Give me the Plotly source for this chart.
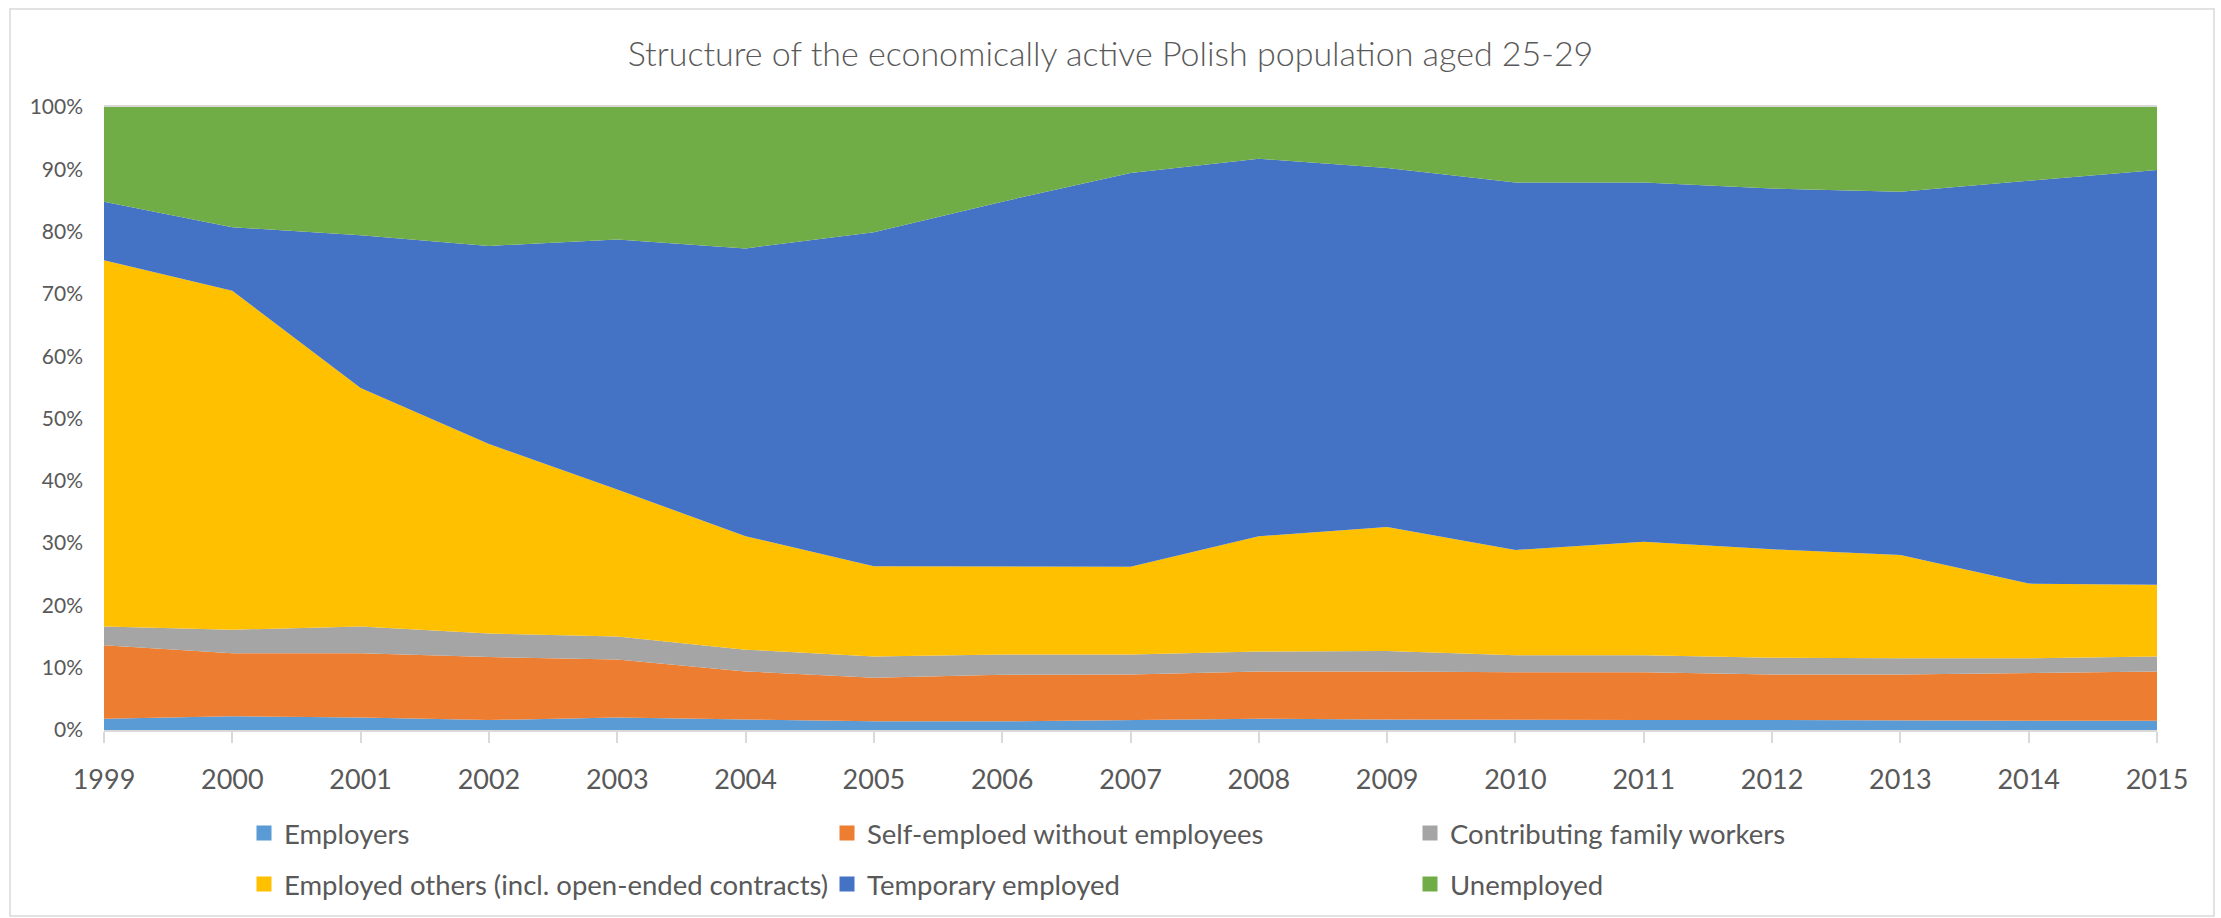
import plotly.graph_objects as go

years = list(range(1999, 2016))

employers = [1.8, 2.2, 2.0, 1.6, 2.0, 1.7, 1.4, 1.4, 1.6, 1.8, 1.7, 1.6, 1.6, 1.6, 1.5, 1.5, 1.5]
self_employed = [11.8, 10.1, 10.3, 10.1, 9.3, 7.7, 7.0, 7.45, 7.3, 7.6, 7.7, 7.65, 7.65, 7.3, 7.4, 7.6, 7.9]
family_workers = [3.0, 3.8, 4.3, 3.8, 3.7, 3.5, 3.4, 3.25, 3.2, 3.2, 3.3, 2.75, 2.75, 2.7, 2.6, 2.4, 2.4]
employed_others = [58.8, 54.4, 38.3, 30.4, 23.6, 18.2, 14.5, 14.1, 14.1, 18.5, 19.9, 16.9, 18.2, 17.4, 16.6, 12.0, 11.5]
temporary = [9.4, 10.2, 24.5, 31.8, 40.15, 46.2, 53.6, 58.6, 63.2, 60.6, 57.6, 59.0, 57.7, 57.9, 58.3, 64.7, 66.6]
unemployed = [15.2, 19.3, 20.6, 22.3, 21.25, 22.7, 20.1, 15.2, 10.6, 8.3, 9.8, 12.1, 12.1, 13.1, 13.6, 11.8, 10.1]

series_names = [
    "Employers",
    "Self-emploed without employees",
    "Contributing family workers",
    "Employed others (incl. open-ended contracts)",
    "Temporary employed",
    "Unemployed",
]
series_values = [employers, self_employed, family_workers, employed_others, temporary, unemployed]
series_colors = ["#5B9BD5", "#ED7D31", "#A5A5A5", "#FFC000", "#4472C4", "#70AD47"]

y_ticks = list(range(0, 101, 10))
y_tick_labels = [f"{v}%" for v in y_ticks]

FONT = "Lato"
TXT = "#595959"
GRID = "#D9D9D9"

W, H = 2221, 918
L, R, T, B = 104, 64, 107, 188
pw, ph = W - L - R, H - T - B

def px_x(p):
    return (p - L) / pw

def px_y(p):
    return (H - B - p) / ph

fig = go.Figure()
for name, vals, col in zip(series_names, series_values, series_colors):
    fig.add_trace(go.Scatter(
        x=years, y=vals, name=name, mode="lines",
        line=dict(width=0, color=col), fillcolor=col,
        stackgroup="one", groupnorm="percent",
        showlegend=False, hoverinfo="x+y+name",
    ))

# legend entries (two rows, as two legends)
for i, (name, col) in enumerate(zip(series_names, series_colors)):
    fig.add_trace(go.Scatter(
        x=[None], y=[None], name=name, mode="markers",
        marker=dict(symbol="square", size=15, color=col),
        legend="legend" if i < 3 else "legend2",
    ))

leg_common = dict(
    orientation="h", xanchor="left", yanchor="middle", traceorder="normal",
    entrywidth=538, entrywidthmode="pixels",
    font=dict(family=FONT, size=27.5, color=TXT),
    bgcolor="rgba(0,0,0,0)", itemclick=False, itemdoubleclick=False,
)

fig.update_layout(
    width=W, height=H,
    margin=dict(l=L, r=R, t=T, b=B, autoexpand=False),
    paper_bgcolor="white", plot_bgcolor="white",
    title=dict(
        text="Structure of the economically active Polish population aged 25-29",
        x=0.5, xref="container", xanchor="center",
        y=1 - 54 / H, yref="container", yanchor="middle",
        font=dict(family=FONT, size=34, color=TXT, weight=300),
    ),
    xaxis=dict(
        range=[1999, 2015], tickmode="array", tickvals=years,
        ticktext=[str(y) for y in years],
        showgrid=False, zeroline=False,
        showline=True, linecolor=GRID, linewidth=1.5, mirror=True,
        ticks="outside", ticklen=11, tickcolor=GRID, tickwidth=1.5,
        ticklabelstandoff=14,
        tickfont=dict(family=FONT, size=27, color=TXT),
    ),
    yaxis=dict(
        range=[0, 100], tickmode="array", tickvals=y_ticks, ticktext=y_tick_labels,
        showgrid=False, zeroline=False, showline=False,
        ticks="", ticklabelstandoff=20,
        tickfont=dict(family=FONT, size=21, color=TXT),
    ),
    legend=dict(x=px_x(244), y=px_y(833), **leg_common),
    legend2=dict(x=px_x(244), y=px_y(884), **leg_common),
    shapes=[dict(
        type="rect", xref="paper", yref="paper",
        x0=px_x(10), x1=px_x(2214), y0=px_y(916), y1=px_y(9),
        line=dict(color=GRID, width=1.5), fillcolor="rgba(0,0,0,0)", layer="below",
    )],
)

fig.write_html(
    "out.html",
    config={"displayModeBar": False},
    post_script="document.body.style.margin='0';document.body.style.overflow='hidden';",
)
